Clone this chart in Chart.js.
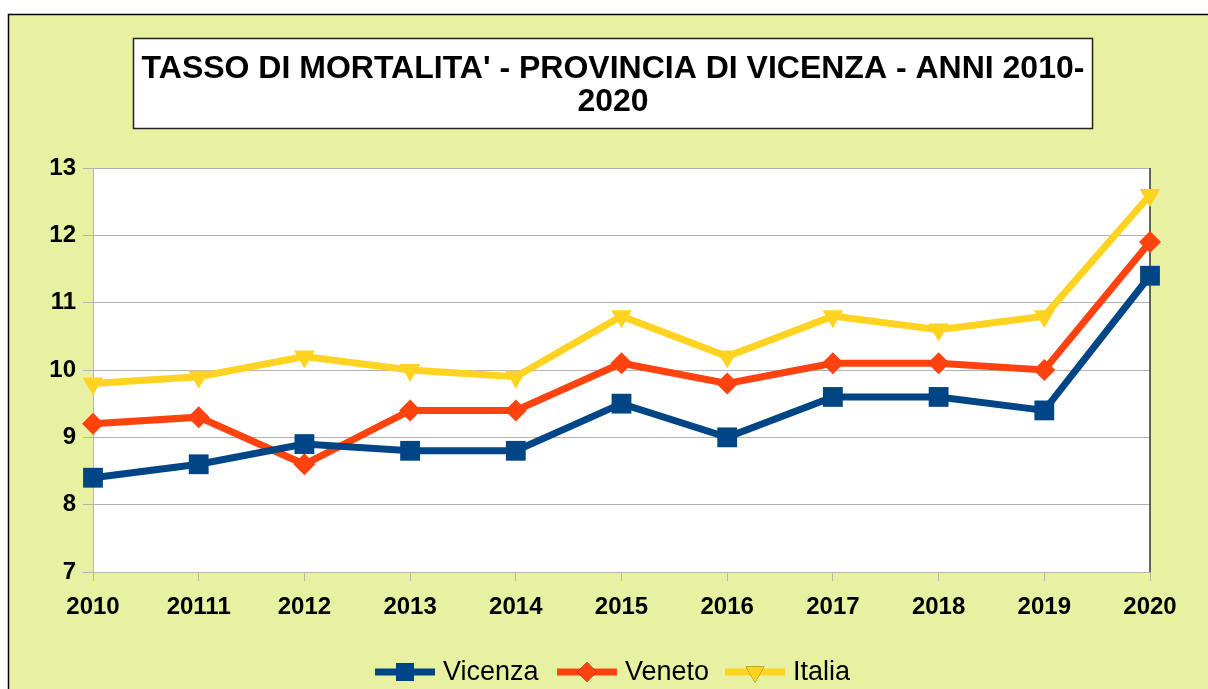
<!DOCTYPE html>
<html>
<head>
<meta charset="utf-8">
<script src="https://cdn.jsdelivr.net/npm/chart.js@4"></script>
<style>
  html, body { margin: 0; padding: 0; background: #ffffff; }
  #wrap { position: relative; width: 1208px; height: 689px; }
</style>
</head>
<body>
<div id="wrap"><canvas id="chartMortalita" width="1208" height="689"></canvas></div>
<script>
/* =========================================================
   DATI
========================================================= */
const anni = ["2010", "20111", "2012", "2013", "2014", "2015", "2016", "2017", "2018", "2019", "2020"];
const vicenza = [8.4, 8.6, 8.9, 8.8, 8.8, 9.5, 9.0, 9.6, 9.6, 9.4, 11.4];
const veneto = [9.2, 9.3, 8.6, 9.4, 9.4, 10.1, 9.8, 10.1, 10.1, 10.0, 11.9];
const italia = [9.8, 9.9, 10.2, 10.0, 9.9, 10.8, 10.2, 10.8, 10.6, 10.8, 12.6];
const titolo = ["TASSO DI MORTALITA' - PROVINCIA DI VICENZA - ANNI 2010-", "2020"];

const serie = [
    { label: "Vicenza", data: vicenza, color: "#004586", style: "rect", rot: 0, r: 14 },
    { label: "Veneto", data: veneto, color: "#ff420e", style: "rectRot", rot: 0, r: 11 },
    { label: "Italia", data: italia, color: "#ffd320", style: "triangle", rot: 180, r: 12 }
];

/* =========================================================
   SFONDO, CORNICE, TITOLO, LEGENDA
========================================================= */
const sfondo = {
    id: "sfondo",
    beforeDraw(chart) {
        const c = chart.ctx;
        c.save();
        c.fillStyle = "#ffffff";
        c.fillRect(0, 0, chart.width, chart.height);
        c.fillStyle = "#e8f1a2";
        c.fillRect(8, 14, chart.width - 8, chart.height - 14);
        c.strokeStyle = "#000000";
        c.lineWidth = 1.5;
        c.beginPath();
        c.moveTo(8.5, chart.height);
        c.lineTo(8.5, 14.5);
        c.lineTo(chart.width, 14.5);
        c.stroke();
        const a = chart.chartArea;
        c.fillStyle = "#ffffff";
        c.fillRect(a.left, a.top, a.right - a.left, a.bottom - a.top);
        c.restore();
    },
    beforeDatasetsDraw(chart) {
        const c = chart.ctx;
        const a = chart.chartArea;
        c.save();
        // bordo destro del grafico
        c.strokeStyle = "#333333";
        c.lineWidth = 1.5;
        c.beginPath();
        c.moveTo(a.right, a.top);
        c.lineTo(a.right, a.bottom);
        c.stroke();
        c.restore();
    },
    afterDraw(chart) {
        const c = chart.ctx;
        c.save();
        // riquadro del titolo
        c.fillStyle = "#ffffff";
        c.fillRect(133, 38, 959, 90);
        c.strokeStyle = "#222222";
        c.lineWidth = 1.5;
        c.strokeRect(133.5, 38.5, 959, 90);
        c.fillStyle = "#000000";
        c.font = "bold 32px 'Liberation Sans', Arial, sans-serif";
        c.textAlign = "center";
        c.textBaseline = "middle";
        c.fillText(titolo[0], 613, 69);
        c.fillText(titolo[1], 613, 102);

        // legenda
        const y = 672;
        const posX = [375, 557, 725];
        c.font = "27px 'Liberation Sans', Arial, sans-serif";
        c.textAlign = "left";
        serie.forEach((s, i) => {
            const x = posX[i];
            c.strokeStyle = s.color;
            c.lineWidth = 7;
            c.beginPath();
            c.moveTo(x, y);
            c.lineTo(x + 60, y);
            c.stroke();
            Chart.helpers.drawPoint(c, {
                pointStyle: s.style, radius: s.r * 0.9, rotation: s.rot,
                borderWidth: 0
            }, x + 30, y);
            c.fillStyle = s.color;
            c.fill();
            c.fillStyle = "#000000";
            c.fillText(s.label, x + 68, y + 1);
        });
        c.restore();
    }
};

/* =========================================================
   GRAFICO
========================================================= */
const ctx = document.getElementById("chartMortalita");
const fontTick = { family: "'Liberation Sans', Arial, sans-serif", size: 24, weight: "bold" };

new Chart(ctx, {
    type: "line",
    data: {
        labels: anni,
        datasets: serie.map(s => ({
            label: s.label,
            data: s.data,
            borderColor: s.color,
            backgroundColor: s.color,
            borderWidth: 7,
            tension: 0,
            pointStyle: s.style,
            pointRotation: s.rot,
            pointRadius: s.r,
            pointBorderWidth: 0,
            pointBackgroundColor: s.color
        }))
    },
    options: {
        responsive: false,
        animation: false,
        layout: { padding: { top: 168, right: 58, left: 0, bottom: 0 } },
        plugins: {
            legend: { display: false },
            title: { display: false },
            tooltip: { enabled: false }
        },
        scales: {
            x: {
                offset: false,
                afterFit: s => { s.height = 117; },
                grid: {
                    drawOnChartArea: false,
                    color: "#b3b3b3",
                    tickLength: 9
                },
                border: { color: "#b3b3b3", width: 1 },
                ticks: {
                    color: "#000000",
                    padding: 12,
                    font: fontTick
                }
            },
            y: {
                min: 7,
                max: 13,
                afterFit: s => { s.width = 93; },
                grid: {
                    color: "#b3b3b3",
                    tickLength: 10
                },
                border: { color: "#b3b3b3", width: 1 },
                ticks: {
                    stepSize: 1,
                    color: "#000000",
                    padding: 7,
                    font: fontTick
                }
            }
        }
    },
    plugins: [sfondo]
});
</script>
</body>
</html>
